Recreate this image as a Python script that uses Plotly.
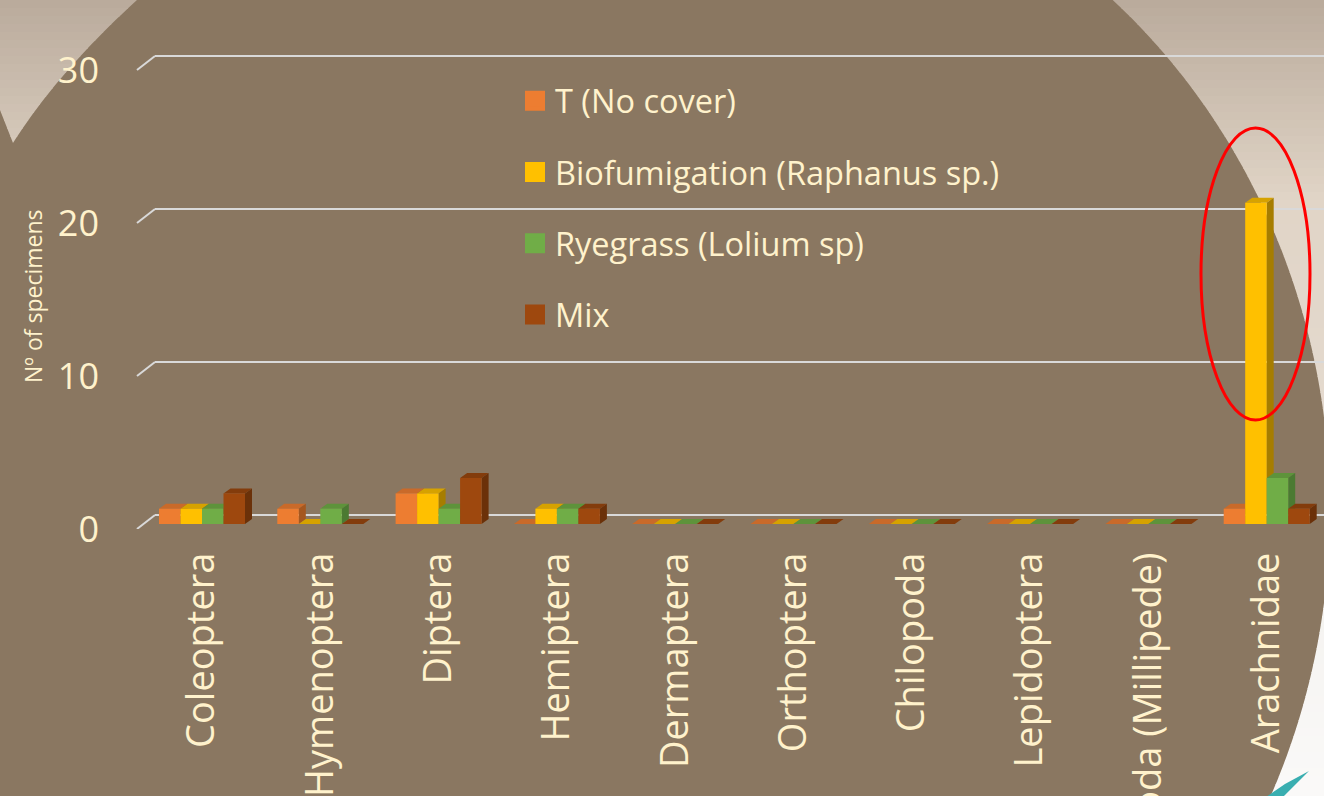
import numpy as np
import plotly.graph_objects as go

# ---------------- data ----------------
categories = ["Coleoptera", "Hymenoptera", "Diptera", "Hemiptera", "Dermaptera",
              "Orthoptera", "Chilopoda", "Lepidoptera", "Diplopoda (Millipede)", "Arachnidae"]
series_names = ["T (No cover)", "Biofumigation (Raphanus sp.)", "Ryegrass (Lolium sp)", "Mix"]
t_no_cover = [1, 1, 2, 0, 0, 0, 0, 0, 0, 1]
biofumigation = [1, 0, 2, 1, 0, 0, 0, 0, 0, 21]
ryegrass = [1, 1, 1, 1, 0, 0, 0, 0, 0, 3]
mix = [2, 0, 3, 1, 0, 0, 0, 0, 0, 1]
y_ticks = [0, 10, 20, 30]
y_title = "Nº of specimens"

series_values = [t_no_cover, biofumigation, ryegrass, mix]
front_colors = ["#ED7D31", "#FFC000", "#70AD47", "#9E480E"]
top_colors = ["#C96A2A", "#D6A200", "#5E933B", "#833C0C"]
side_colors = ["#A5571F", "#A67D00", "#4B7A32", "#6B3109"]

# ---------------- geometry (pixels) ----------------
W, H = 1324, 796
S = 15.3                     # px per unit
PLOT_TOP, PLOT_BOT = 30, 529
HP = PLOT_BOT - PLOT_TOP
dom_y = [(H - PLOT_BOT) / H, (H - PLOT_TOP) / H]
CAT_W = 118.3
CAT0 = 202.0
X_LEFT = 142.0
BARGAP = 0.273
DX, DY = 7, 5                # bar depth in px
FRONT_OFF, BACK_OFF = 0, 14  # ticks plane / grid plane offsets
BAR_OFF = 5

TXT = "#FFF2CC"
GRID = "#D9D9D9"
BG = "#8A7761"

fig = go.Figure()

ncat = len(categories)
nser = len(series_values)
bw_data = (1 - BARGAP) / nser
hw_px = bw_data * CAT_W / 2
dy_data = DY / S

shapes = []

# dummy trace so the back-wall subplot is drawn
fig.add_trace(go.Scatter(x=[None], y=[None], xaxis="x", yaxis="y", showlegend=False,
                         hoverinfo="skip"))

for k, (name, vals) in enumerate(zip(series_names, series_values)):
    fig.add_trace(go.Bar(
        x=categories, y=vals, name=name, marker=dict(color=front_colors[k], line=dict(width=0)),
        xaxis="x2", yaxis="y2", showlegend=False, hoverinfo="x+y+name"))
    # legend proxy
    fig.add_trace(go.Scatter(
        x=[None], y=[None], mode="markers", name=name, legendgroup=name,
        marker=dict(symbol="square", size=16, color=front_colors[k],
                    line=dict(color=front_colors[k], width=4)),
        xaxis="x2", yaxis="y2"))
    for i, v in enumerate(vals):
        xc = i + (k - (nser - 1) / 2) * bw_data
        # top face
        shapes.append(dict(
            type="path", xref="x2", yref="y2", xsizemode="pixel", xanchor=xc,
            path=f"M{-hw_px},{v} L{hw_px},{v} L{hw_px + DX},{v + dy_data} L{-hw_px + DX},{v + dy_data} Z",
            fillcolor=top_colors[k], line=dict(width=0), layer="between"))
        if v > 0:
            shapes.append(dict(
                type="path", xref="x2", yref="y2", xsizemode="pixel", xanchor=xc,
                path=f"M{hw_px},0 L{hw_px + DX},{dy_data} L{hw_px + DX},{v + dy_data} L{hw_px},{v} Z",
                fillcolor=side_colors[k], line=dict(width=0), layer="between"))

# tick stubs (front plane to back wall)
for v in y_ticks:
    shapes.append(dict(
        type="path", xref="paper", yref="y3", xsizemode="pixel", ysizemode="pixel",
        xanchor=137 / W, yanchor=v, path="M0,0 L18,14",
        line=dict(color=GRID, width=2), layer="above"))

# ---------------- background decoration ----------------
def clip(poly, inside, inter):
    out = []
    n = len(poly)
    for j in range(n):
        cur, prev = poly[j], poly[j - 1]
        if inside(cur):
            if not inside(prev):
                out.append(inter(prev, cur))
            out.append(cur)
        elif inside(prev):
            out.append(inter(prev, cur))
    return out

def ix(c):
    def f(p, q):
        t = (c - p[1]) / (q[1] - p[1])
        return (p[0] + t * (q[0] - p[0]), c)
    return f

def band(poly, y0, y1):
    p = clip(poly, lambda a: a[1] >= y0, ix(y0))
    if not p:
        return p
    return clip(p, lambda a: a[1] <= y1, ix(y1))

def to_path(pts):
    s = "M" + " L".join(f"{x / W:.5f},{1 - y / H:.5f}" for x, y in pts) + " Z"
    return s

ECX, ECY, EA, EB = 700, 510, 630, 675
def ell_x(y):
    t = 1 - ((y - ECY) / EB) ** 2
    return ECX + EA * np.sqrt(max(t, 0))

tr = [(min(ell_x(y), 1340), y) for y in np.linspace(0, 470, 80)] + [(1340, 470), (1340, 0)]
br = [(min(ell_x(y), 1340), y) for y in np.linspace(560, 800, 50)] + [(1340, 800), (1340, 560)]
tt = np.linspace(0, 1, 30)
p0, pc, p1 = np.array([137, 0]), np.array([58, 72]), np.array([13, 143])
tl = [(0, 0)] + [tuple((1 - t) ** 2 * p0 + 2 * (1 - t) * t * pc + t ** 2 * p1) for t in tt] + [(0, 110)]

def top_col(y):
    c0, c1, c2 = np.array([186, 171, 156]), np.array([225, 213, 199]), np.array([229, 219, 208])
    if y < 200:
        c = c0 + (c1 - c0) * y / 200
    else:
        c = c1 + (c2 - c1) * min((y - 200) / 250, 1)
    return "rgb(%d,%d,%d)" % tuple(c.astype(int))

def bot_col(y):
    c0, c1 = np.array([244, 242, 239]), np.array([251, 250, 249])
    c = c0 + (c1 - c0) * (y - 560) / 240
    return "rgb(%d,%d,%d)" % tuple(c.astype(int))

STEP = 8
for poly, rng, colf in [(tl, (0, 150), top_col), (tr, (0, 470), top_col), (br, (560, 800), bot_col)]:
    for y0 in np.arange(rng[0], rng[1], STEP):
        pts = band(poly, y0, y0 + STEP + 0.8)
        if len(pts) >= 3:
            shapes.append(dict(type="path", xref="paper", yref="paper", path=to_path(pts),
                               fillcolor=colf(y0 + STEP / 2), line=dict(width=0), layer="below"))

# teal swoosh
sw = [(1266, 797), (1285, 784), (1309, 771), (1296, 784), (1283, 797)]
shapes.append(dict(type="path", xref="paper", yref="paper", path=to_path(sw),
                   fillcolor="#39AEB0", line=dict(width=0), layer="below"))

# red ellipse highlight
shapes.append(dict(type="circle", xref="paper", yref="paper",
                   x0=1201 / W, x1=1310 / W, y0=1 - 420 / H, y1=1 - 128 / H,
                   line=dict(color="#FF0000", width=3), fillcolor="rgba(0,0,0,0)", layer="above"))

fig.update_layout(
    width=W, height=H,
    margin=dict(l=0, r=0, t=0, b=0, pad=0),
    paper_bgcolor=BG, plot_bgcolor="rgba(0,0,0,0)",
    font=dict(family="Open Sans", color=TXT),
    barmode="group", bargap=BARGAP, bargroupgap=0,
    showlegend=True,
    legend=dict(x=515 / W, y=1 - 73 / H, xanchor="left", yanchor="top",
                bgcolor="rgba(0,0,0,0)", font=dict(size=32.5, color=TXT, family="Open Sans"),
                tracegroupgap=26, itemwidth=30),
    # grid (back wall)
    xaxis=dict(domain=[155 / W, 1], range=[0, 1], showgrid=False, zeroline=False,
               showline=False, showticklabels=False, ticks="", fixedrange=True, automargin=False),
    yaxis=dict(domain=dom_y, anchor="x", range=[-BACK_OFF / S, (HP - BACK_OFF) / S],
               tickvals=y_ticks, showgrid=True, gridcolor=GRID, gridwidth=2,
               zeroline=False, showticklabels=False, showline=False, ticks="", automargin=False),
    # bars
    xaxis2=dict(domain=[X_LEFT / W, 1], anchor="y2", type="category", categoryarray=categories,
                range=[(X_LEFT - CAT0) / CAT_W, (W - CAT0) / CAT_W],
                tickangle=-90, tickfont=dict(size=38, color=TXT, family="Open Sans"),
                showgrid=False, showline=False, zeroline=False, ticks="",
                ticklabelstandoff=15, automargin=False),
    yaxis2=dict(domain=dom_y, anchor="x2", range=[-BAR_OFF / S, (HP - BAR_OFF) / S],
                visible=False, automargin=False),
    # front tick labels
    yaxis3=dict(overlaying="y2", anchor="free", position=137 / W, side="left",
                range=[-FRONT_OFF / S, (HP - FRONT_OFF) / S], tickvals=y_ticks,
                tickfont=dict(size=36, color=TXT, family="Open Sans"),
                showgrid=False, zeroline=False, showline=False, ticks="",
                ticklabelstandoff=38, automargin=False),
    shapes=shapes,
    annotations=[dict(text=y_title, textangle=-90, x=33 / W, y=1 - 297 / H,
                      xanchor="center", yanchor="middle",
                      xref="paper", yref="paper", showarrow=False,
                      font=dict(size=23, color=TXT, family="Open Sans"))],
)

fig.write_html("out.html", config={"displayModeBar": False},
               post_script="document.body.style.margin='0';document.body.style.overflow='hidden';")
